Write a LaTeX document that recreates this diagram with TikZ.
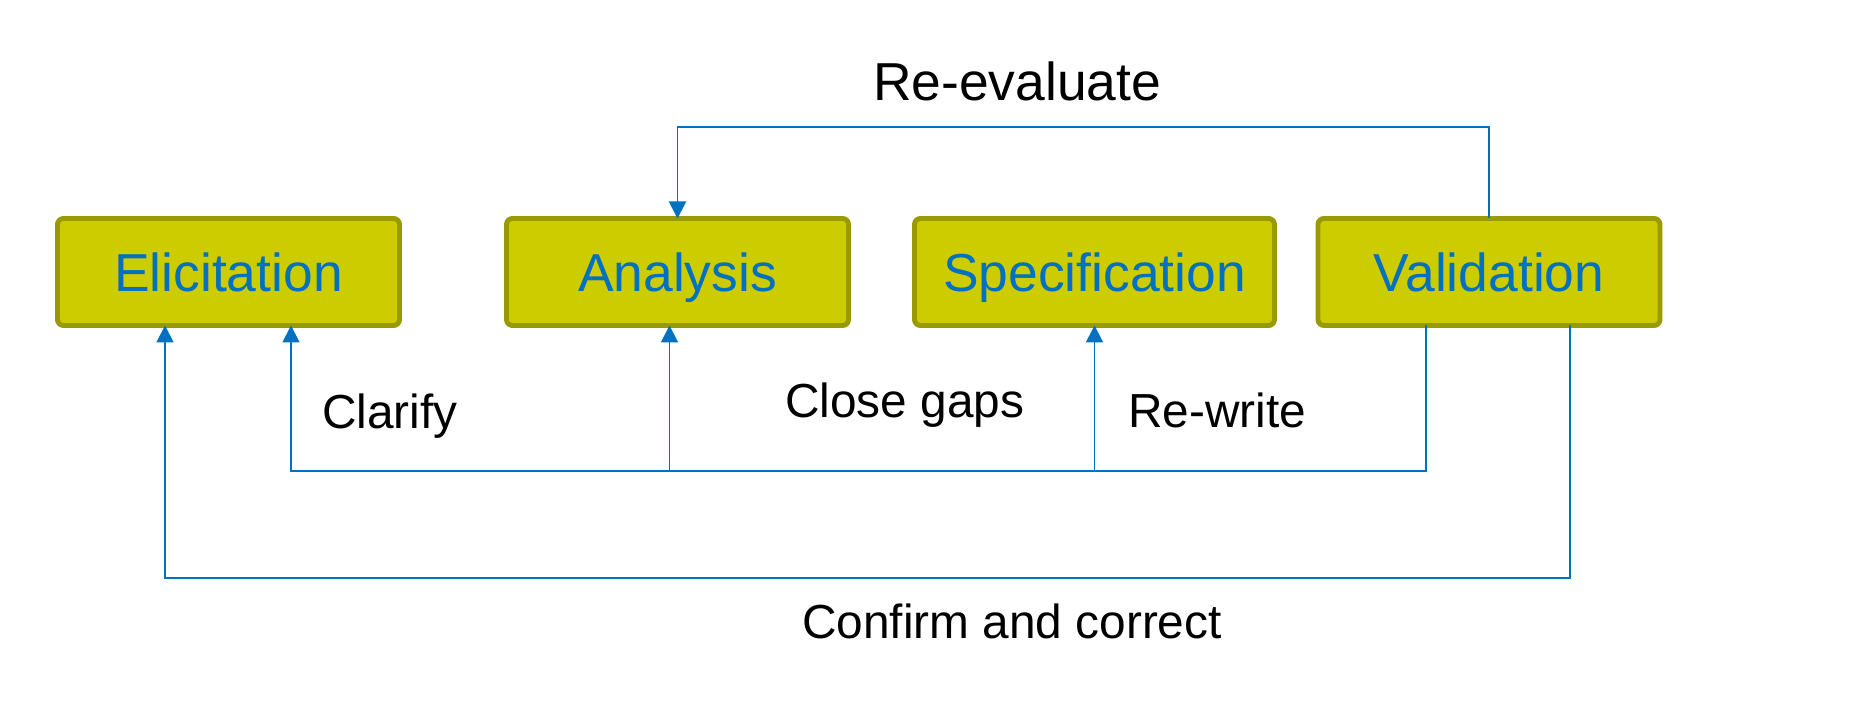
\documentclass[tikz,border=0pt]{standalone}
\usepackage{fontspec}
\setmainfont{Liberation Sans}
\usetikzlibrary{arrows.meta,positioning}
\definecolor{phasefill}{HTML}{CCCC00}
\definecolor{phaseline}{HTML}{999900}
\definecolor{flowblue}{HTML}{0070C0}

\begin{document}
\begin{tikzpicture}[>={Triangle[width=1.7mm,length=1.7mm]},auto,semithick,
                    node distance=1cm]
  \tikzstyle{phase}=[draw=phaseline,fill=phasefill,line width=1.4pt,
                     rounded corners=0.6mm,minimum width=3.42cm,
                     minimum height=1.07cm,outer sep=0pt,text=flowblue,
                     text height=0.4cm,text depth=0cm,
                     font=\fontsize{15.2}{18}\selectfont]
  \tikzstyle{lbl}=[inner sep=0pt,anchor=base west,
                   font=\fontsize{13.6}{16}\selectfont]
  \tikzstyle{flow}=[draw=flowblue,line width=0.55pt]

  \useasboundingbox (0,0) rectangle (18.51,-7.08);

  \node[phase]                   (elic)  at (2.285,-2.72)         {Elicitation};
  \node[phase]                   (anal)  [right=1.07cm of elic]   {Analysis};
  \node[phase,minimum width=3.6cm] (spec) [right=0.66cm of anal]  {Specification};
  \node[phase]                   (valid) [right=0.435cm of spec]  {Validation};

  % feedback lines
  \coordinate (fix) at ([yshift=-1.455cm]elic.south);
  \draw[flow,->] (valid.north) -- ++(0,0.915) -| (anal.north);
  \draw[flow,->] ([xshift=-0.63cm]valid.south) |- ([xshift=0.625cm]fix)
                 -- ([xshift=0.625cm]elic.south);
  \draw[flow,->] ([xshift=-0.08cm]anal.south |- fix) -- ([xshift=-0.08cm]anal.south);
  \draw[flow,->] (spec.south |- fix) -- (spec.south);
  \draw[flow,->] ([xshift=0.81cm]valid.south) -- ++(0,-2.525)
                 -| ([xshift=-0.635cm]elic.south);

  \node[lbl,font=\fontsize{15.2}{18}\selectfont] (reeval) at (8.72,-1.01) {Re-evaluate};
  \node[lbl] (clarify) at (3.21,-4.29) {Clarify};
  \node[lbl] (gaps)    at (7.84,-4.18) {Close gaps};
  \node[lbl] (rewrite) at (11.27,-4.28) {Re-write};
  \node[lbl] (confirm) at (8.01,-6.38) {Confirm and correct};
\end{tikzpicture}
\end{document}
